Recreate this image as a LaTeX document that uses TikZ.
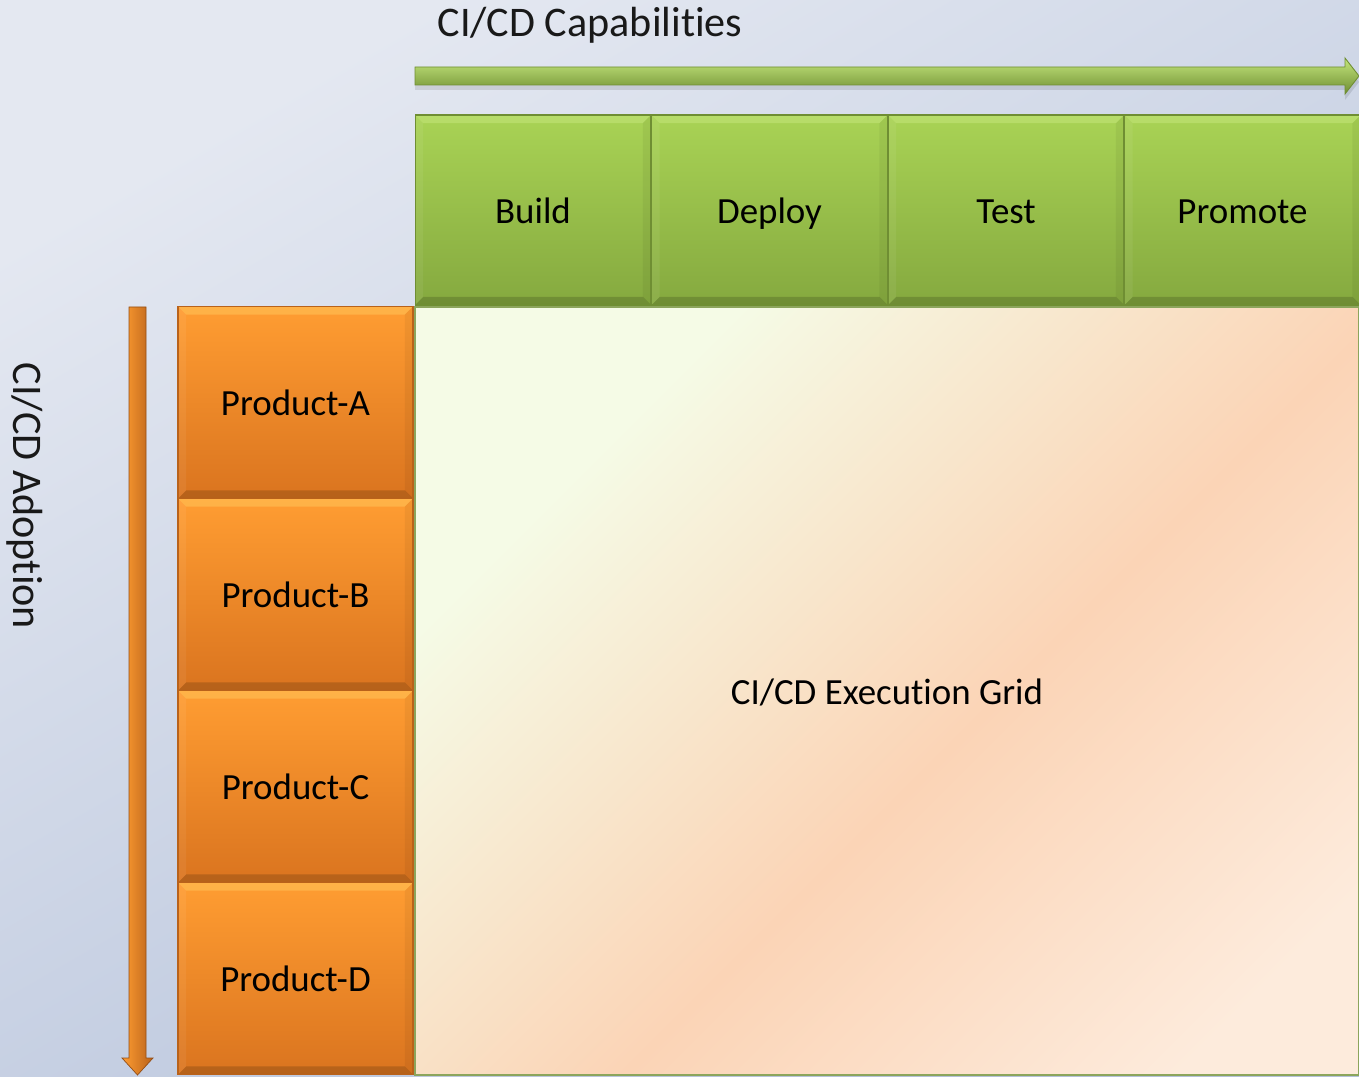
\documentclass[tikz,border=0pt]{standalone}
\usepackage{fontspec}
\setmainfont{Carlito}[Ligatures=NoCommon]
\definecolor{bgA}{HTML}{E4E8F1}
\definecolor{bgB}{HTML}{B4C1DA}
\definecolor{gTop}{HTML}{A9D355}
\definecolor{gBot}{HTML}{85A93F}
\definecolor{gLine}{HTML}{6F8E33}
\definecolor{gHi}{HTML}{C4E67C}
\definecolor{oTop}{HTML}{FF9D32}
\definecolor{oBot}{HTML}{DA741F}
\definecolor{oLine}{HTML}{B9621A}
\definecolor{oHi}{HTML}{FFC55A}
\definecolor{gridA}{HTML}{F5FBE6}
\definecolor{gridB}{HTML}{FBD4B6}
\definecolor{gridC}{HTML}{FDEBDC}
\pgfdeclarehorizontalshading{gridshade}{100bp}{color(0bp)=(gridA); color(28bp)=(gridA); color(55bp)=(gridB); color(78bp)=(gridC); color(100bp)=(gridC)}
\tikzset{
  bv/.store in=\bvw, bv=0.16cm,
  bevel/.style={path picture={
    \fill[#1,opacity=.55] (path picture bounding box.north west) -- (path picture bounding box.north east)
      -- ([shift={(-\bvw,-\bvw)}]path picture bounding box.north east) -- ([shift={(\bvw,-\bvw)}]path picture bounding box.north west) -- cycle;
    \fill[black,opacity=.16] (path picture bounding box.south west) -- (path picture bounding box.south east)
      -- ([shift={(-\bvw,\bvw)}]path picture bounding box.south east) -- ([shift={(\bvw,\bvw)}]path picture bounding box.south west) -- cycle;
    \fill[white,opacity=.06] (path picture bounding box.north west) -- (path picture bounding box.south west)
      -- ([shift={(\bvw,\bvw)}]path picture bounding box.south west) -- ([shift={(\bvw,-\bvw)}]path picture bounding box.north west) -- cycle;
    \fill[black,opacity=.05] (path picture bounding box.north east) -- (path picture bounding box.south east)
      -- ([shift={(-\bvw,\bvw)}]path picture bounding box.south east) -- ([shift={(-\bvw,-\bvw)}]path picture bounding box.north east) -- cycle;
  }},
  boxtext/.style={font=\fontsize{21}{25}\selectfont, text=black, text height=15pt, text depth=0pt, inner sep=0pt},
  capbox/.style={draw=gLine, line width=0.6pt, top color=gTop, bottom color=gBot, bevel=gHi,
    minimum width=4.72cm, minimum height=3.8cm, boxtext},
  prodbox/.style={draw=oLine, line width=0.6pt, top color=oTop, bottom color=oBot, bevel=oHi,
    minimum width=4.7cm, minimum height=3.84cm, boxtext},
  gridbox/.style={draw=gLine!80, line width=0.8pt, shading=gridshade, shading angle=-45,
    minimum width=18.88cm, minimum height=15.36cm, boxtext},
  axislabel/.style={font=\fontsize{24}{28}\selectfont, text=black!90, inner sep=0pt},
}
\begin{document}
\begin{tikzpicture}[x=0.02cm, y=-0.02cm]
  % page background
  \useasboundingbox (0,0) rectangle (1359,1077);
  \fill[top color=bgA, bottom color=bgB, shading angle=30] (0,0) rectangle (1359,1077);

  % headline and capability arrow
  \node[axislabel] (caps) at (590,25) {CI/CD Capabilities};
  \fill[black, opacity=.10] (415,72) -- (1345,72) -- (1345,63) -- (1359,82) -- (1345,100) -- (1345,90) -- (415,90) -- cycle;
  \shade[top color=gHi, middle color=gTop, bottom color=gLine]
    (415,67) -- (1345,67) -- (1345,58) -- (1359,76) -- (1345,94) -- (1345,85) -- (415,85) -- cycle;
  \draw[gLine, line width=0.5pt]
    (415,67) -- (1345,67) -- (1345,58) -- (1359,76) -- (1345,94) -- (1345,85) -- (415,85) -- cycle;

  % adoption arrow
  \node[axislabel, rotate=-90] (adopt) at (25,496) {CI/CD Adoption};
  \shade[left color=oTop, right color=oLine]
    (129,307) -- (146,307) -- (146,1058) -- (153,1058) -- (137.5,1075) -- (122,1058) -- (129,1058) -- cycle;
  \draw[oLine!80!black, line width=0.4pt]
    (129,307) -- (146,307) -- (146,1058) -- (153,1058) -- (137.5,1075) -- (122,1058) -- (129,1058) -- cycle;

  % execution grid
  \node[gridbox] (grid) at (887,691) {CI/CD Execution Grid};

  % capability columns
  \node[capbox] (build)   at (533,210)    {Build};
  \node[capbox] (deploy)  at (769.5,210)  {Deploy};
  \node[capbox] (test)    at (1006,210)   {Test};
  \node[capbox] (promote) at (1242.5,210) {Promote};

  % product rows
  \node[prodbox] (pa) at (295.5,402.5) {Product-A};
  \node[prodbox] (pb) at (295.5,594.5) {Product-B};
  \node[prodbox] (pc) at (295.5,786.5) {Product-C};
  \node[prodbox] (pd) at (295.5,978.5) {Product-D};
\end{tikzpicture}
\end{document}
